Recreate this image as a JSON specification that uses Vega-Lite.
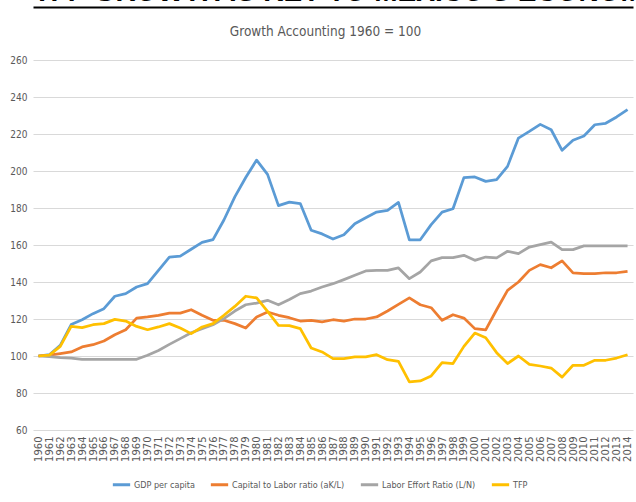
{
  "$schema": "https://vega.github.io/schema/vega-lite/v6.json",
  "width": 600,
  "height": 370,
  "autosize": {"type": "none"},
  "padding": {"left": 33, "top": 60, "right": 3, "bottom": 72},
  "background": "white",
  "config": {
    "view": {"stroke": null},
    "font": "Liberation Sans Narrow, DejaVu Sans Condensed, sans-serif"
  },
  "data": {
    "values": [
      {"year": 1960, "GDP": 100, "KL": 100, "LN": 100, "TFP": 100},
      {"year": 1961, "GDP": 100.7, "KL": 100.5, "LN": 99.6, "TFP": 100.5},
      {"year": 1962, "GDP": 105.8, "KL": 101.3, "LN": 99.1, "TFP": 105.2},
      {"year": 1963, "GDP": 117, "KL": 102.2, "LN": 98.9, "TFP": 116},
      {"year": 1964, "GDP": 119.6, "KL": 104.9, "LN": 98.2, "TFP": 115.3},
      {"year": 1965, "GDP": 122.9, "KL": 106.1, "LN": 98.2, "TFP": 116.9},
      {"year": 1966, "GDP": 125.6, "KL": 108.1, "LN": 98.2, "TFP": 117.5},
      {"year": 1967, "GDP": 132.3, "KL": 111.5, "LN": 98.2, "TFP": 119.8},
      {"year": 1968, "GDP": 133.7, "KL": 114.2, "LN": 98.2, "TFP": 118.9},
      {"year": 1969, "GDP": 137.3, "KL": 120.5, "LN": 98.2, "TFP": 116},
      {"year": 1970, "GDP": 139.1, "KL": 121.1, "LN": 100.4, "TFP": 114.2},
      {"year": 1971, "GDP": 146.3, "KL": 122, "LN": 103, "TFP": 115.7},
      {"year": 1972, "GDP": 153.5, "KL": 123.2, "LN": 106.3, "TFP": 117.5},
      {"year": 1973, "GDP": 154, "KL": 123.2, "LN": 109.4, "TFP": 115.1},
      {"year": 1974, "GDP": 157.7, "KL": 125, "LN": 112.6, "TFP": 112.1},
      {"year": 1975, "GDP": 161.4, "KL": 122, "LN": 114.8, "TFP": 115.7},
      {"year": 1976, "GDP": 162.9, "KL": 119.3, "LN": 116.9, "TFP": 117.5},
      {"year": 1977, "GDP": 173.5, "KL": 119.3, "LN": 120.2, "TFP": 122},
      {"year": 1978, "GDP": 186, "KL": 117.5, "LN": 124.3, "TFP": 126.8},
      {"year": 1979, "GDP": 196.5, "KL": 115.1, "LN": 127.7, "TFP": 132.3},
      {"year": 1980, "GDP": 205.9, "KL": 121.1, "LN": 128.6, "TFP": 131.4},
      {"year": 1981, "GDP": 198.2, "KL": 123.8, "LN": 130.1, "TFP": 124.1},
      {"year": 1982, "GDP": 181.3, "KL": 122, "LN": 127.7, "TFP": 116.6},
      {"year": 1983, "GDP": 183.2, "KL": 120.7, "LN": 130.5, "TFP": 116.4},
      {"year": 1984, "GDP": 182.4, "KL": 118.9, "LN": 133.7, "TFP": 114.8},
      {"year": 1985, "GDP": 168, "KL": 119.3, "LN": 135.1, "TFP": 104.3},
      {"year": 1986, "GDP": 166, "KL": 118.4, "LN": 137.3, "TFP": 102.2},
      {"year": 1987, "GDP": 163.2, "KL": 119.6, "LN": 139.1, "TFP": 98.6},
      {"year": 1988, "GDP": 165.5, "KL": 118.9, "LN": 141.3, "TFP": 98.6},
      {"year": 1989, "GDP": 171.5, "KL": 120, "LN": 143.6, "TFP": 99.5},
      {"year": 1990, "GDP": 174.7, "KL": 120, "LN": 146, "TFP": 99.5},
      {"year": 1991, "GDP": 177.8, "KL": 121.1, "LN": 146.3, "TFP": 100.7},
      {"year": 1992, "GDP": 178.7, "KL": 124.3, "LN": 146.3, "TFP": 98},
      {"year": 1993, "GDP": 183, "KL": 127.9, "LN": 147.6, "TFP": 97.1},
      {"year": 1994, "GDP": 162.8, "KL": 131.4, "LN": 141.8, "TFP": 86},
      {"year": 1995, "GDP": 162.8, "KL": 127.7, "LN": 145.4, "TFP": 86.5},
      {"year": 1996, "GDP": 171, "KL": 126.1, "LN": 151.4, "TFP": 89.2},
      {"year": 1997, "GDP": 177.8, "KL": 119.3, "LN": 153.2, "TFP": 96.4},
      {"year": 1998, "GDP": 179.6, "KL": 122.3, "LN": 153.2, "TFP": 95.9},
      {"year": 1999, "GDP": 196.4, "KL": 120.5, "LN": 154.4, "TFP": 105.2},
      {"year": 2000, "GDP": 196.8, "KL": 114.8, "LN": 151.7, "TFP": 112.4},
      {"year": 2001, "GDP": 194.4, "KL": 114.1, "LN": 153.5, "TFP": 109.9},
      {"year": 2002, "GDP": 195.3, "KL": 125, "LN": 153, "TFP": 101.8},
      {"year": 2003, "GDP": 202.5, "KL": 135.5, "LN": 156.6, "TFP": 95.9},
      {"year": 2004, "GDP": 217.8, "KL": 140, "LN": 155.3, "TFP": 100},
      {"year": 2005, "GDP": 221.4, "KL": 146.3, "LN": 158.9, "TFP": 95.5},
      {"year": 2006, "GDP": 225.2, "KL": 149.4, "LN": 160.2, "TFP": 94.6},
      {"year": 2007, "GDP": 222.3, "KL": 147.7, "LN": 161.6, "TFP": 93.5},
      {"year": 2008, "GDP": 211.2, "KL": 151.4, "LN": 157.5, "TFP": 88.6},
      {"year": 2009, "GDP": 216.6, "KL": 144.9, "LN": 157.5, "TFP": 95},
      {"year": 2010, "GDP": 218.9, "KL": 144.5, "LN": 159.5, "TFP": 95},
      {"year": 2011, "GDP": 225, "KL": 144.5, "LN": 159.5, "TFP": 97.7},
      {"year": 2012, "GDP": 225.8, "KL": 145, "LN": 159.5, "TFP": 97.7},
      {"year": 2013, "GDP": 229.2, "KL": 145, "LN": 159.5, "TFP": 98.9},
      {"year": 2014, "GDP": 233.2, "KL": 145.8, "LN": 159.5, "TFP": 100.7}
    ]
  },
  "transform": [
    {"fold": ["GDP", "KL", "LN", "TFP"], "as": ["series", "value"]}
  ],
  "layer": [
    {
      "mark": {"type": "line", "strokeWidth": 2.75, "strokeJoin": "round"},
      "encoding": {
        "x": {
          "field": "year",
          "type": "ordinal",
          "scale": {"type": "point", "padding": 0.5},
          "axis": {
            "orient": "bottom",
            "title": null,
            "labelAngle": -90,
            "labelFontSize": 10,
            "labelFont": "DejaVu Sans",
            "labelColor": "#595959",
            "labelPadding": 6,
            "ticks": false,
            "domain": false,
            "grid": false
          }
        },
        "y": {
          "field": "value",
          "type": "quantitative",
          "scale": {"domain": [60, 260], "nice": false, "zero": false},
          "axis": {
            "values": [60, 80, 100, 120, 140, 160, 180, 200, 220, 240, 260],
            "title": "Growth Accounting 1960 = 100",
            "titleAngle": 0,
            "titleX": 292,
            "titleY": -25,
            "titleAlign": "center",
            "titleBaseline": "alphabetic",
            "titleFontSize": 13.5,
            "titleFontWeight": "normal",
            "titleColor": "#595959",
            "labelFontSize": 10,
            "labelColor": "#595959",
            "labelPadding": 6,
            "ticks": false,
            "domain": false,
            "grid": true,
            "gridColor": "#d9d9d9",
            "gridWidth": 1
          }
        },
        "color": {
          "field": "series",
          "type": "nominal",
          "scale": {
            "domain": ["GDP", "KL", "LN", "TFP"],
            "range": ["#5B9BD5", "#ED7D31", "#A5A5A5", "#FFC000"]
          },
          "legend": {
            "orient": "none",
            "direction": "horizontal",
            "legendX": 78,
            "legendY": 414,
            "title": null,
            "symbolType": "stroke",
            "symbolSize": 300,
            "symbolStrokeWidth": 3,
            "labelFontSize": 9,
            "labelColor": "#595959",
            "labelOffset": 2,
            "columnPadding": 9,
            "labelExpr": "{'GDP': 'GDP per capita', 'KL': 'Capital to Labor ratio (aK/L)', 'LN': 'Labor Effort Ratio (L/N)', 'TFP': 'TFP'}[datum.label]"
          }
        }
      }
    },
    {
      "mark": {"type": "rule", "opacity": 0},
      "encoding": {
        "x": {
          "field": "year",
          "type": "ordinal",
          "axis": {
            "orient": "top",
            "offset": 53,
            "labels": false,
            "ticks": false,
            "grid": false,
            "domain": true,
            "domainColor": "black",
            "domainWidth": 2,
            "title": "TFP GROWTH IS KEY TO MEXICO'S ECONOMIC GROWTH",
            "titleFont": "Liberation Sans",
            "titleFontSize": 28,
            "titleFontWeight": "bold",
            "titleColor": "black",
            "titleAnchor": "start",
            "titleAlign": "left",
            "titlePadding": 1
          }
        }
      }
    }
  ],
  "resolve": {"axis": {"x": "independent"}}
}
